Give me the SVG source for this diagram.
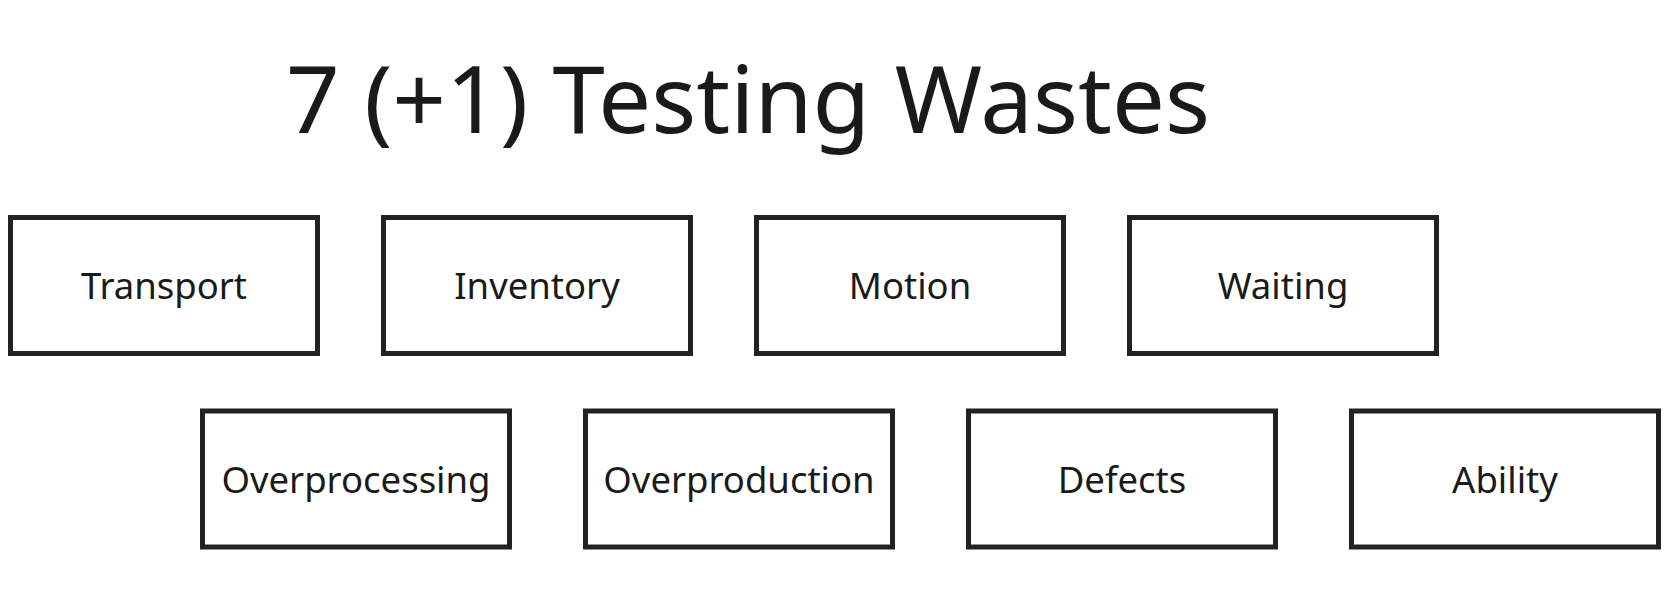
<svg xmlns="http://www.w3.org/2000/svg" width="1677" height="596" viewBox="0 0 1677 596">
<style>
.b{fill:#fff;stroke:#222;stroke-width:5}
.t{font-family:"Noto Sans","Open Sans",sans-serif;font-size:36.5px;fill:#1a1a1a;text-anchor:middle}
</style>
<rect width="1677" height="596" fill="#fff"/>
<text x="748" y="133" style="font-family:'Noto Sans','Open Sans',sans-serif;font-size:94px;fill:#1a1a1a;text-anchor:middle">7 (+1) Testing Wastes</text>
<g id="connectors"/>
<g id="transport"><rect class="b" x="10.5" y="217.5" width="307" height="136"/><text class="t" x="164" y="299">Transport</text></g>
<g id="inventory"><rect class="b" x="383.5" y="217.5" width="307" height="136"/><text class="t" x="537" y="299">Inventory</text></g>
<g id="motion"><rect class="b" x="756.5" y="217.5" width="307" height="136"/><text class="t" x="910" y="299">Motion</text></g>
<g id="waiting"><rect class="b" x="1129.5" y="217.5" width="307" height="136"/><text class="t" x="1283" y="299">Waiting</text></g>
<g id="overprocessing"><rect class="b" x="202.5" y="411" width="307" height="136"/><text class="t" x="356" y="493">Overprocessing</text></g>
<g id="overproduction"><rect class="b" x="585.5" y="411" width="307" height="136"/><text class="t" x="739" y="493">Overproduction</text></g>
<g id="defects"><rect class="b" x="968.5" y="411" width="307" height="136"/><text class="t" x="1122" y="493">Defects</text></g>
<g id="ability"><rect class="b" x="1351.5" y="411" width="307" height="136"/><text class="t" x="1505" y="493">Ability</text></g>
</svg>
